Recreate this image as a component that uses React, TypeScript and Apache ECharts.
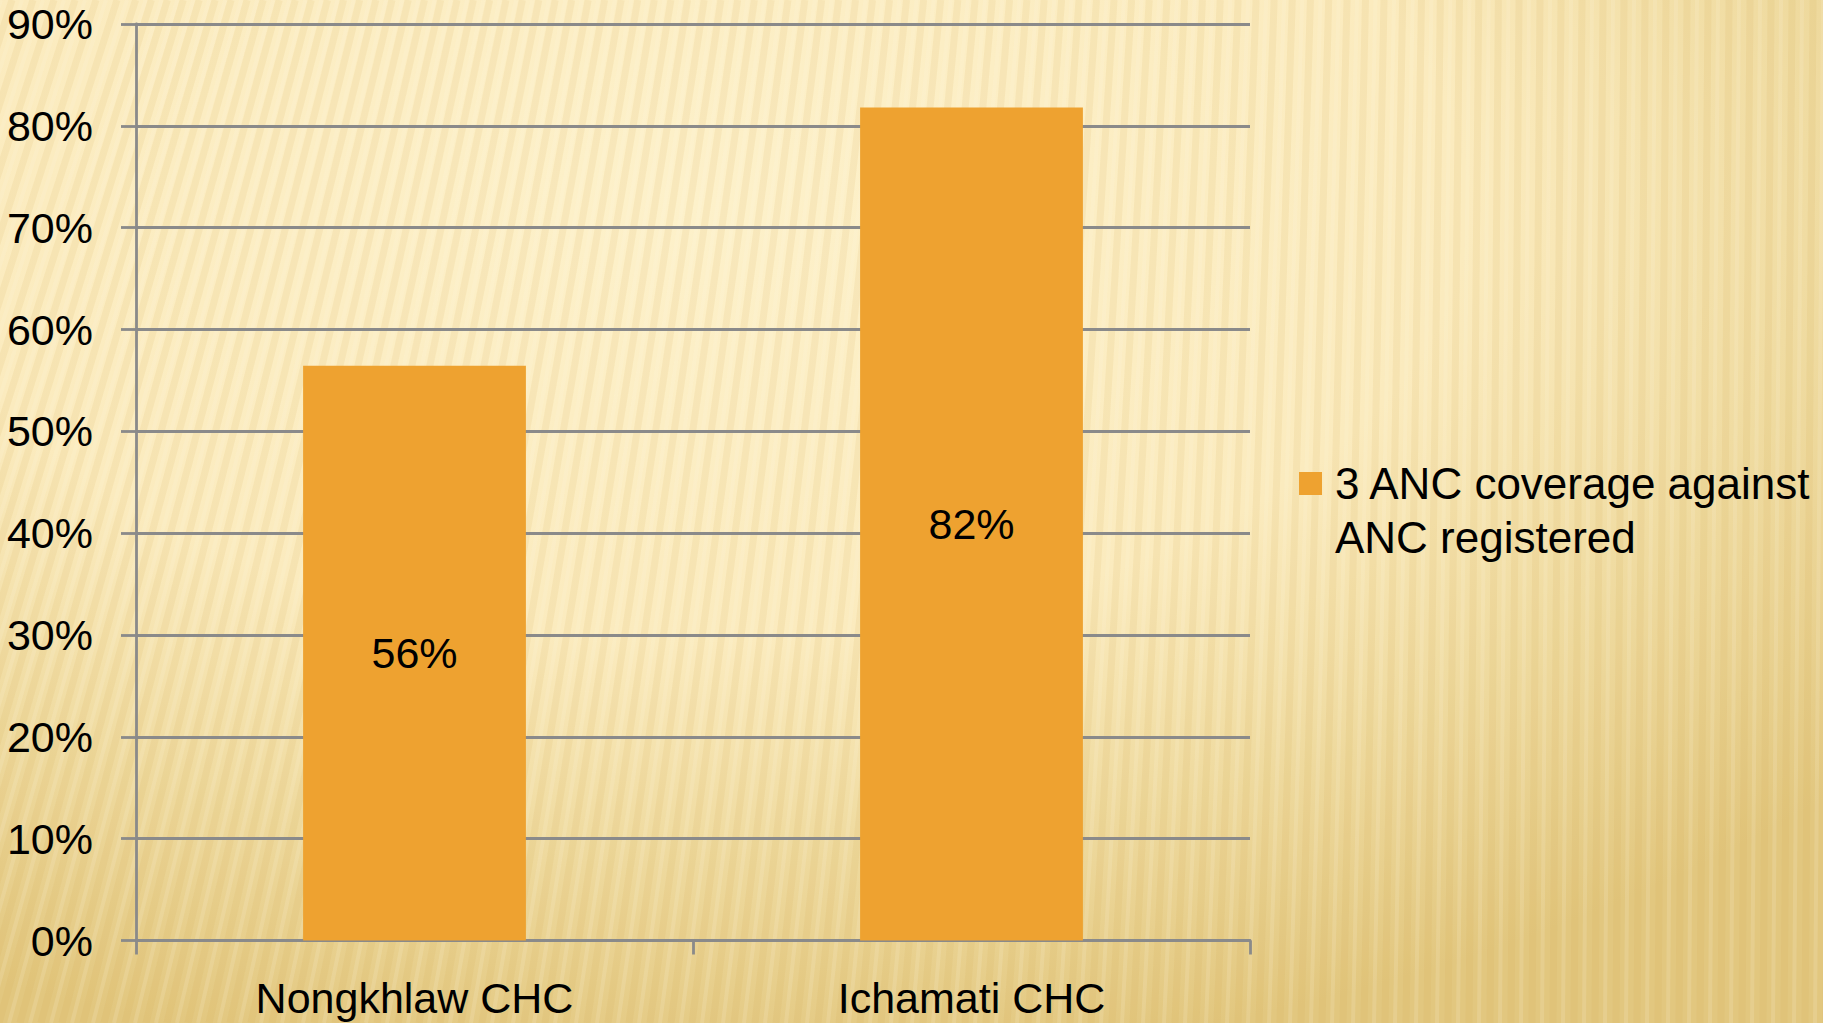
import React, { useEffect, useRef } from "react";
import * as echarts from "echarts";

const categories = ["Nongkhlaw CHC", "Ichamati CHC"];
const seriesName = "3 ANC coverage against ANC registered";
const legendLines = ["3 ANC coverage against", "ANC registered"];
const coverageValues = [56.45, 81.8];
const yTicks = { min: 0, max: 90, interval: 10 };

const W = 1823;
const H = 1023;
const BAR_COLOR = "#EEA230";
const GRID_COLOR = "#8a8a8a";
const FONT = "'Liberation Sans', Arial, sans-serif";

function buildStripes() {
  const els: any[] = [];
  for (let x = -400; x < W + 40; x += 21) {
    const t = Math.max(0, Math.min(1, (x + 200) / 1700));
    const slant = 320 * Math.pow(1 - t, 1.3) + 8;
    els.push({
      type: "line",
      silent: true,
      shape: { x1: x + slant, y1: 0, x2: x, y2: H },
      style: { stroke: "rgba(205,165,70,0.11)", lineWidth: 7 },
      z: -9,
    });
    els.push({
      type: "line",
      silent: true,
      shape: { x1: x + slant + 10, y1: 0, x2: x + 10, y2: H },
      style: { stroke: "rgba(255,250,225,0.15)", lineWidth: 4 },
      z: -9,
    });
  }
  return els;
}

export default function App() {
  const ref = useRef<HTMLDivElement>(null);
  useEffect(() => {
    if (!ref.current) return;
    const chart = echarts.init(ref.current, null, { renderer: "svg" });
    const option: any = {
      animation: false,
      backgroundColor: "#F3E2AA",
      textStyle: { fontFamily: FONT },
      grid: { left: 136, right: W - 1250, top: 24, bottom: H - 940.5, containLabel: false },
      xAxis: {
        type: "category",
        data: categories,
        axisLine: { show: true, lineStyle: { color: GRID_COLOR, width: 2.8 } },
        axisTick: { show: true, length: 14, lineStyle: { color: GRID_COLOR, width: 2.8 } },
        axisLabel: { color: "#000", fontSize: 43, margin: 36, fontFamily: FONT },
        splitLine: { show: false },
      },
      yAxis: {
        type: "value",
        min: yTicks.min,
        max: yTicks.max,
        interval: yTicks.interval,
        axisLine: { show: true, lineStyle: { color: GRID_COLOR, width: 2.8 } },
        axisTick: { show: true, length: 15, lineStyle: { color: GRID_COLOR, width: 2.8 } },
        axisLabel: {
          color: "#000",
          fontSize: 43,
          lineHeight: 38,
          margin: 43,
          formatter: "{value}%",
          fontFamily: FONT,
        },
        splitLine: { show: true, lineStyle: { color: GRID_COLOR, width: 2.8 } },
      },
      series: [
        {
          name: seriesName,
          type: "bar",
          data: coverageValues,
          barWidth: "40%",
          itemStyle: { color: BAR_COLOR },
          label: {
            show: true,
            position: "inside",
            color: "#000",
            fontSize: 43,
            fontFamily: FONT,
            formatter: (p: any) => Math.round(p.value) + "%",
          },
        },
      ],
      graphic: [
        {
          type: "rect",
          silent: true,
          z: -10,
          shape: { x: 0, y: 0, width: W, height: H },
          style: {
            fill: {
              type: "radial",
              x: 0.38,
              y: 0.2,
              r: 0.85,
              colorStops: [
                { offset: 0, color: "#FDF1CA" },
                { offset: 0.5, color: "#FBEBBE" },
                { offset: 0.72, color: "#F0DCA2" },
                { offset: 1, color: "#E2C77F" },
              ],
            },
          },
        },
        ...buildStripes(),
        {
          type: "rect",
          silent: true,
          shape: { x: 1299, y: 472, width: 23, height: 23 },
          style: { fill: BAR_COLOR },
        },
        {
          type: "text",
          silent: true,
          x: 1335,
          y: 456,
          style: {
            text: legendLines.join("\n"),
            fontSize: 44,
            lineHeight: 54,
            fill: "#000",
            fontFamily: FONT,
            align: "left",
            verticalAlign: "top",
          },
        },
      ],
    };
    chart.setOption(option);
    return () => chart.dispose();
  }, []);
  return (
    <div
      ref={ref}
      style={{ position: "fixed", left: 0, top: 0, width: W, height: H }}
    />
  );
}
